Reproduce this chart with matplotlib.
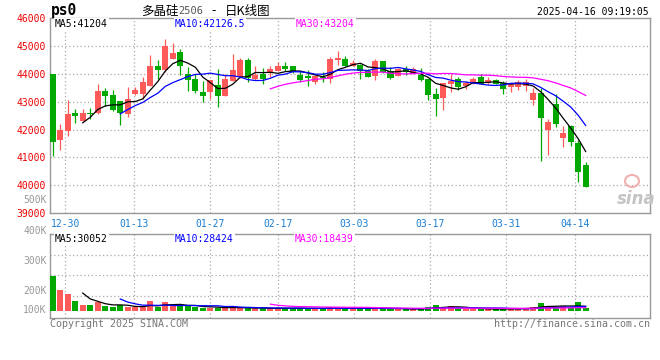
import numpy as np
import pandas as pd
import matplotlib
matplotlib.use("Agg")
import matplotlib.pyplot as plt
from matplotlib.patches import Ellipse

# trading days shown on the chart (GFEX calendar)
holidays = ["2025-01-01", "2025-01-28", "2025-01-29", "2025-01-30", "2025-01-31",
            "2025-02-03", "2025-02-04", "2025-04-04"]
days = pd.bdate_range("2024-12-26", "2025-04-16", freq="C", holidays=holidays)
dates = [d.strftime("%m-%d") for d in days]

opens = [44000, 41610, 41930, 42590, 42310, 42580, 42600, 43380, 43240, 43020,
         42560, 43270, 43270, 43570, 44270, 44130, 44520, 44800, 44000, 43810,
         43360, 43350, 43600, 43210, 43750, 43900, 44510, 43800, 44000, 44070,
         44100, 44300, 44300, 43970, 43910, 43720, 43900, 43830, 44480, 44550,
         44280, 44330, 44100, 43920, 44460, 44085, 43915, 44190, 44000, 43976,
         43798, 43262, 43117, 43618, 43821, 43559, 43642, 43880, 43678, 43797,
         43670, 43530, 43522, 43558, 43058, 43297, 41985, 42902, 41686, 42116,
         41507, 40726]
highs = [44000, 42200, 43060, 42740, 42730, 42790, 43630, 43490, 43420, 43030,
         43540, 43510, 43890, 44680, 44490, 45240, 45100, 44880, 44230, 44000,
         43750, 43790, 44170, 43980, 44700, 44580, 44580, 44300, 44200, 44300,
         44430, 44430, 44300, 44100, 44130, 43940, 44070, 44610, 44830, 44650,
         44480, 44360, 44180, 44520, 44470, 44230, 44210, 44295, 44250, 44214,
         43800, 43500, 43679, 44000, 43893, 43738, 43893, 44012, 43881, 43830,
         43738, 43679, 43774, 43798, 43500, 43500, 42390, 43290, 42116, 42155,
         41621, 40840]
lows = [41040, 41250, 41750, 42240, 42300, 42380, 42560, 42860, 42650, 42150,
        42460, 43250, 43100, 43560, 43810, 44050, 44520, 43950, 43400, 43320,
        42990, 43080, 42820, 43200, 43740, 43860, 43700, 43790, 43630, 43900,
        44090, 44090, 44030, 43700, 43560, 43640, 43710, 43670, 44310, 44270,
        44270, 43800, 43870, 43780, 44040, 43830, 43910, 43950, 43990, 43726,
        43050, 42485, 42700, 43344, 43417, 43464, 43620, 43620, 43650, 43620,
        43285, 43345, 43417, 43381, 42881, 40875, 41078, 42080, 41358, 41400,
        40110, 39930]
closes = [41560, 41990, 42560, 42500, 42595, 42550, 43380, 43210, 42700, 42590,
          43100, 43420, 43690, 44270, 44130, 45000, 44740, 44290, 43770, 43390,
          43210, 43770, 43210, 43830, 44130, 44480, 43860, 43950, 43800, 44190,
          44300, 44160, 44080, 43770, 43840, 43940, 43840, 44550, 44585, 44270,
          44400, 44100, 43890, 44450, 44050, 43840, 44170, 44050, 44165, 43774,
          43238, 43083, 43654, 43737, 43523, 43678, 43833, 43642, 43797, 43642,
          43450, 43643, 43725, 43700, 43300, 42414, 42258, 42200, 41860, 41555,
          40481, 39945]
volumes = [231000, 137000, 110000, 66000, 38000, 38000, 59000, 31000, 26000, 38000,
           26000, 22000, 22000, 64000, 26000, 57000, 31000, 31000, 31000, 26000,
           20000, 20000, 20000, 15000, 31000, 15000, 15000, 15000, 15000, 20000,
           15000, 15000, 15000, 20000, 15000, 15000, 15000, 22000, 15000, 15000,
           15000, 15000, 15000, 22000, 13000, 11000, 11000, 11000, 11000, 15000,
           22000, 38000, 22000, 31000, 15000, 11000, 11000, 11000, 11000, 11000,
           15000, 11000, 15000, 20000, 22000, 53000, 31000, 20000, 31000, 20000,
           57000, 15000]

tick_dates = ["12-30", "01-13", "01-27", "02-17", "03-03", "03-17", "03-31", "04-14"]
price_ticks = [39000, 40000, 41000, 42000, 43000, 44000, 45000, 46000]

UP = "#ff5a5a"
DOWN = "#00a800"
RED_TXT = "#ee0000"
BLUE_TXT = "#1a7fd4"
GRAY = "#999999"
MONO = "DejaVu Sans Mono"
CJK = ["Noto Sans CJK SC", "DejaVu Sans"]

W, H = 660, 360


def box(l, t, r, b):
    return [l / W, 1 - b / H, (r - l) / W, (b - t) / H]


def fx(px):
    return px / W


def fy(py):
    return 1 - py / H


o = np.array(opens)
h = np.array(highs)
l = np.array(lows)
c = np.array(closes)
v = np.array(volumes)
x = np.arange(len(c))
up = c >= o
cols = np.where(up, UP, DOWN)

# gridlines sit on a slightly wider step than the candles
tick_pos = [dates.index(d) * 1.0128 - 0.35 for d in tick_dates]

fig = plt.figure(figsize=(6.6, 3.6), dpi=100)
fig.patch.set_facecolor("white")
ax = fig.add_axes(box(50, 18.2, 650, 213))
axv = fig.add_axes(box(50, 234, 650, 318))

for a in (ax, axv):
    a.set_xlim(-0.36, 79.57)
    for s in a.spines.values():
        s.set_color(GRAY)
        s.set_linewidth(1.0)
    a.set_xticks(tick_pos)
    a.grid(True, linestyle=(0, (1, 2)), color="#aaaaaa", linewidth=0.9)
    a.set_axisbelow(True)
    a.tick_params(length=0)

# candles
ax.vlines(x, l, h, colors=cols, linewidth=0.9, zorder=2)
ax.bar(x, np.maximum(np.abs(c - o), 30), bottom=np.minimum(o, c), width=0.8,
       color=cols, linewidth=0, zorder=3)

cs = pd.Series(c)
ax.plot(x, cs.rolling(5).mean(), color="black", lw=0.9, zorder=4)
ax.plot(x, cs.rolling(10).mean(), color="#0000ff", lw=0.9, zorder=4)
ax.plot(x, cs.rolling(30).mean(), color="#ff00ff", lw=0.9, zorder=4)

ax.set_ylim(39000, 46000)
ax.set_yticks(price_ticks)
ax.set_yticklabels([str(p) for p in price_ticks], color=RED_TXT, fontsize=7,
                   family=MONO)
ax.set_xticklabels(tick_dates, color=BLUE_TXT, fontsize=7, family=MONO)
ax.tick_params(axis="y", pad=3)
ax.tick_params(axis="x", pad=4.5)

# volume
axv.bar(x, v, width=0.8, color=cols, linewidth=0, zorder=3)
vs = pd.Series(v)
axv.plot(x, vs.rolling(5).mean(), color="black", lw=0.9, zorder=4)
axv.plot(x, vs.rolling(10).mean(), color="#0000ff", lw=0.9, zorder=4)
axv.plot(x, vs.rolling(30).mean(), color="#ff00ff", lw=0.9, zorder=4)
axv.set_ylim(-48000, 506000)
axv.set_yticks([99000, 236000, 368000])
axv.set_yticklabels([])
axv.set_xticklabels([])

# odd volume scale labels, as the source draws them
for txt, py in [("500K", 200), ("400K", 230.7), ("300K", 260.7),
                ("200K", 290.7), ("100K", 310)]:
    fig.text(fx(46.5), fy(py), txt, ha="right", va="center", color=GRAY,
             fontsize=7, family=MONO)

# header
fig.text(fx(51), fy(11), "ps0", ha="left", va="center", fontsize=10.5,
         fontweight="bold", family=MONO)
fig.text(fx(141), fy(11), "多晶硅", ha="left", va="center", fontsize=9,
         family=CJK)
fig.text(fx(178), fy(11.5), "2506", ha="left", va="center", fontsize=7.5,
         color="#555555", family=MONO)
fig.text(fx(211), fy(11), "-", ha="left", va="center", fontsize=9, family=CJK)
fig.text(fx(225), fy(11), "日K线图", ha="left", va="center", fontsize=9,
         family=CJK)
fig.text(fx(649), fy(12), "2025-04-16 09:19:05", ha="right", va="center",
         fontsize=7, family=MONO)

bb = dict(facecolor="white", edgecolor="none", pad=0.6)
for txt, px, col in [("MA5:41204", 55, "black"), ("MA10:42126.5", 175, "#0000ff"),
                     ("MA30:43204", 296, "#ff00ff")]:
    fig.text(fx(px), fy(24), txt, ha="left", va="center", fontsize=7,
             color=col, family=MONO, bbox=bb, zorder=10)
for txt, px, col in [("MA5:30052", 55, "black"), ("MA10:28424", 175, "#0000ff"),
                     ("MA30:18439", 295, "#ff00ff")]:
    fig.text(fx(px), fy(239), txt, ha="left", va="center", fontsize=7,
             color=col, family=MONO, bbox=bb, zorder=10)

# watermark
fig.patches.append(Ellipse((fx(632), fy(181)), 14 / W, 12 / H, fill=False,
                           edgecolor="#f3b0b0", linewidth=1.5,
                           transform=fig.transFigure))
fig.text(fx(636), fy(199), "sina", ha="center", va="center", fontsize=12,
         style="italic", fontweight="bold", color="#c4c4c4")

fig.text(fx(50), fy(324), "Copyright 2025 SINA.COM", ha="left", va="center",
         fontsize=7.2, color="#777777", family=MONO)
fig.text(fx(650), fy(324), "http://finance.sina.com.cn", ha="right",
         va="center", fontsize=7.2, color="#777777", family=MONO)

fig.savefig("out.png", dpi=100, facecolor="white")
